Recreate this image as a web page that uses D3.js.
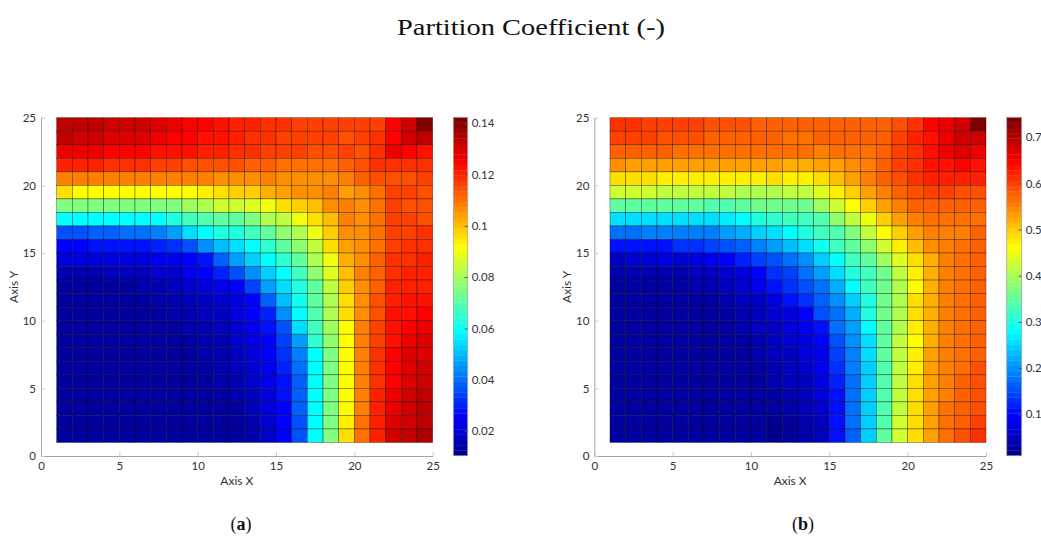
<!DOCTYPE html>
<html>
<head>
<meta charset="utf-8">
<script src="https://cdn.jsdelivr.net/npm/d3@7"></script>
<style>
body { margin: 0; background: #fff; }
svg text { font-family: Lato, "Open Sans", sans-serif; }
</style>
</head>
<body>
<script>
// Axis ticks and colorbar ticks
var axisTicks = [0, 5, 10, 15, 20, 25];
var cbTicksA = [0.02, 0.04, 0.06, 0.08, 0.1, 0.12, 0.14];
var cbTicksB = [0.1, 0.2, 0.3, 0.4, 0.5, 0.6, 0.7];
// colour limits
var climA = [0.0104, 0.1423];
var climB = [0.0103, 0.743];
var panelLetters = ["a", "b"];

// Partition coefficient, one row per y band, top row (y 24-25) first,
// columns from x 1-2 to x 24-25.
var coefA = [
  [0.133,0.132,0.132,0.131,0.131,0.130,0.128,0.127,0.125,0.124,0.123,0.121,0.121,0.119,0.119,0.117,0.117,0.116,0.116,0.116,0.117,0.125,0.131,0.141],
  [0.132,0.131,0.130,0.129,0.128,0.128,0.127,0.125,0.125,0.123,0.122,0.121,0.119,0.119,0.117,0.117,0.117,0.116,0.115,0.116,0.118,0.125,0.131,0.132],
  [0.127,0.127,0.127,0.125,0.125,0.125,0.123,0.123,0.122,0.121,0.120,0.119,0.118,0.117,0.116,0.117,0.115,0.115,0.117,0.115,0.118,0.127,0.125,0.123],
  [0.121,0.120,0.120,0.119,0.118,0.118,0.117,0.117,0.115,0.115,0.114,0.114,0.113,0.112,0.111,0.110,0.110,0.110,0.112,0.115,0.119,0.119,0.119,0.118],
  [0.108,0.108,0.108,0.108,0.108,0.108,0.108,0.108,0.108,0.108,0.106,0.107,0.107,0.108,0.106,0.106,0.106,0.106,0.108,0.112,0.115,0.115,0.115,0.117],
  [0.096,0.092,0.092,0.092,0.092,0.092,0.092,0.092,0.092,0.094,0.096,0.097,0.099,0.102,0.104,0.107,0.107,0.108,0.104,0.107,0.111,0.117,0.116,0.114],
  [0.076,0.076,0.076,0.076,0.076,0.076,0.076,0.076,0.080,0.082,0.085,0.086,0.088,0.090,0.095,0.097,0.100,0.106,0.108,0.106,0.110,0.117,0.115,0.115],
  [0.059,0.059,0.059,0.059,0.059,0.059,0.059,0.063,0.067,0.069,0.071,0.071,0.076,0.082,0.083,0.090,0.095,0.100,0.108,0.106,0.110,0.116,0.116,0.115],
  [0.036,0.037,0.038,0.039,0.040,0.041,0.043,0.047,0.054,0.059,0.063,0.063,0.067,0.071,0.078,0.082,0.090,0.097,0.106,0.106,0.110,0.117,0.117,0.118],
  [0.026,0.026,0.027,0.027,0.028,0.028,0.029,0.032,0.036,0.045,0.051,0.054,0.059,0.065,0.071,0.078,0.084,0.095,0.104,0.107,0.111,0.117,0.118,0.119],
  [0.021,0.021,0.021,0.021,0.022,0.022,0.023,0.024,0.026,0.028,0.038,0.047,0.052,0.059,0.065,0.071,0.081,0.090,0.102,0.107,0.112,0.118,0.119,0.120],
  [0.016,0.016,0.016,0.017,0.017,0.018,0.019,0.020,0.023,0.026,0.031,0.036,0.045,0.053,0.059,0.067,0.078,0.087,0.101,0.108,0.112,0.119,0.120,0.121],
  [0.014,0.013,0.013,0.014,0.014,0.015,0.016,0.017,0.019,0.021,0.024,0.026,0.034,0.047,0.054,0.063,0.071,0.084,0.098,0.107,0.113,0.120,0.121,0.121],
  [0.014,0.013,0.013,0.014,0.014,0.014,0.015,0.016,0.017,0.018,0.020,0.022,0.026,0.038,0.051,0.061,0.071,0.082,0.096,0.107,0.114,0.121,0.122,0.122],
  [0.014,0.013,0.013,0.013,0.014,0.014,0.014,0.015,0.016,0.017,0.018,0.021,0.026,0.030,0.045,0.059,0.069,0.082,0.096,0.107,0.115,0.122,0.123,0.124],
  [0.014,0.013,0.013,0.013,0.013,0.014,0.014,0.014,0.015,0.016,0.017,0.020,0.023,0.028,0.036,0.054,0.067,0.080,0.092,0.108,0.117,0.122,0.125,0.127],
  [0.014,0.013,0.013,0.013,0.013,0.013,0.014,0.014,0.014,0.015,0.016,0.019,0.022,0.026,0.034,0.047,0.065,0.078,0.092,0.108,0.117,0.123,0.126,0.128],
  [0.014,0.014,0.013,0.013,0.013,0.013,0.013,0.014,0.014,0.015,0.016,0.018,0.021,0.025,0.032,0.043,0.059,0.076,0.092,0.108,0.118,0.125,0.128,0.129],
  [0.014,0.014,0.014,0.013,0.013,0.013,0.013,0.013,0.014,0.014,0.015,0.017,0.020,0.024,0.030,0.040,0.059,0.076,0.092,0.108,0.119,0.125,0.128,0.130],
  [0.014,0.014,0.014,0.014,0.013,0.013,0.013,0.013,0.013,0.014,0.015,0.016,0.019,0.023,0.028,0.039,0.059,0.076,0.092,0.108,0.119,0.125,0.129,0.131],
  [0.014,0.014,0.014,0.014,0.014,0.013,0.013,0.013,0.013,0.014,0.014,0.015,0.018,0.022,0.027,0.038,0.059,0.076,0.092,0.108,0.120,0.126,0.130,0.132],
  [0.014,0.014,0.014,0.014,0.014,0.014,0.014,0.014,0.014,0.013,0.014,0.014,0.017,0.021,0.026,0.038,0.059,0.076,0.092,0.109,0.121,0.127,0.131,0.133],
  [0.014,0.014,0.014,0.014,0.014,0.014,0.014,0.014,0.014,0.014,0.013,0.014,0.016,0.020,0.026,0.037,0.059,0.076,0.094,0.110,0.121,0.129,0.131,0.134],
  [0.014,0.014,0.014,0.014,0.014,0.014,0.014,0.014,0.014,0.014,0.013,0.013,0.015,0.019,0.025,0.036,0.059,0.076,0.095,0.110,0.121,0.130,0.133,0.135]
];

var coefB = [
  [0.611,0.617,0.605,0.599,0.596,0.602,0.593,0.588,0.585,0.582,0.579,0.574,0.574,0.577,0.577,0.577,0.574,0.577,0.590,0.611,0.645,0.659,0.682,0.737],
  [0.596,0.599,0.602,0.588,0.585,0.585,0.582,0.577,0.579,0.577,0.574,0.571,0.571,0.577,0.574,0.574,0.574,0.582,0.596,0.623,0.634,0.659,0.679,0.682],
  [0.582,0.574,0.579,0.574,0.568,0.568,0.568,0.568,0.568,0.568,0.568,0.562,0.562,0.559,0.565,0.562,0.562,0.574,0.596,0.617,0.631,0.659,0.673,0.659],
  [0.542,0.536,0.533,0.530,0.530,0.530,0.527,0.530,0.527,0.530,0.527,0.519,0.516,0.530,0.530,0.542,0.556,0.577,0.596,0.611,0.631,0.634,0.640,0.634],
  [0.490,0.490,0.487,0.475,0.479,0.475,0.475,0.475,0.475,0.479,0.482,0.479,0.479,0.487,0.508,0.530,0.553,0.574,0.593,0.608,0.623,0.623,0.623,0.623],
  [0.426,0.426,0.423,0.417,0.417,0.414,0.411,0.411,0.408,0.400,0.400,0.411,0.411,0.440,0.479,0.499,0.530,0.553,0.577,0.588,0.599,0.596,0.588,0.585],
  [0.348,0.348,0.348,0.351,0.348,0.345,0.336,0.342,0.348,0.357,0.357,0.360,0.360,0.394,0.426,0.462,0.499,0.530,0.553,0.574,0.577,0.577,0.574,0.579],
  [0.251,0.251,0.254,0.254,0.251,0.251,0.257,0.268,0.279,0.302,0.313,0.325,0.325,0.336,0.382,0.417,0.451,0.499,0.530,0.553,0.565,0.565,0.565,0.571],
  [0.176,0.182,0.188,0.188,0.188,0.193,0.193,0.205,0.217,0.240,0.251,0.279,0.302,0.325,0.336,0.371,0.411,0.462,0.499,0.530,0.553,0.553,0.559,0.577],
  [0.108,0.108,0.102,0.108,0.130,0.136,0.142,0.153,0.165,0.193,0.211,0.234,0.251,0.291,0.325,0.348,0.382,0.429,0.475,0.513,0.545,0.553,0.565,0.577],
  [0.056,0.059,0.062,0.068,0.062,0.074,0.079,0.096,0.119,0.142,0.159,0.176,0.199,0.240,0.279,0.325,0.348,0.394,0.434,0.490,0.524,0.553,0.565,0.577],
  [0.034,0.034,0.037,0.039,0.039,0.045,0.050,0.062,0.074,0.096,0.130,0.142,0.171,0.211,0.251,0.302,0.325,0.360,0.417,0.479,0.519,0.553,0.571,0.577],
  [0.028,0.025,0.028,0.028,0.031,0.034,0.039,0.050,0.062,0.085,0.108,0.130,0.153,0.182,0.223,0.279,0.325,0.360,0.406,0.462,0.519,0.553,0.568,0.574],
  [0.028,0.025,0.025,0.025,0.028,0.028,0.031,0.034,0.045,0.056,0.074,0.108,0.130,0.165,0.199,0.240,0.302,0.360,0.406,0.484,0.524,0.553,0.568,0.574],
  [0.028,0.025,0.025,0.025,0.025,0.028,0.028,0.031,0.039,0.050,0.062,0.074,0.096,0.153,0.182,0.223,0.302,0.360,0.406,0.484,0.524,0.553,0.568,0.574],
  [0.028,0.025,0.025,0.025,0.025,0.025,0.028,0.028,0.034,0.045,0.056,0.068,0.079,0.108,0.176,0.205,0.279,0.348,0.406,0.479,0.524,0.553,0.568,0.577],
  [0.028,0.025,0.025,0.025,0.025,0.025,0.025,0.028,0.031,0.039,0.050,0.062,0.074,0.096,0.153,0.199,0.262,0.348,0.411,0.462,0.524,0.553,0.568,0.577],
  [0.028,0.028,0.025,0.025,0.025,0.025,0.025,0.025,0.028,0.034,0.045,0.056,0.068,0.085,0.142,0.188,0.251,0.348,0.411,0.479,0.530,0.556,0.568,0.582],
  [0.028,0.028,0.028,0.025,0.025,0.025,0.025,0.025,0.025,0.031,0.039,0.050,0.062,0.079,0.130,0.188,0.245,0.336,0.411,0.479,0.530,0.559,0.571,0.585],
  [0.028,0.028,0.028,0.028,0.025,0.025,0.025,0.025,0.025,0.028,0.034,0.045,0.056,0.074,0.119,0.182,0.245,0.336,0.417,0.484,0.530,0.559,0.574,0.588],
  [0.028,0.028,0.028,0.028,0.028,0.025,0.025,0.025,0.025,0.025,0.028,0.039,0.050,0.068,0.113,0.182,0.245,0.336,0.417,0.484,0.530,0.559,0.577,0.590],
  [0.028,0.028,0.028,0.028,0.028,0.028,0.025,0.025,0.025,0.025,0.022,0.034,0.045,0.062,0.108,0.176,0.245,0.336,0.417,0.490,0.530,0.565,0.577,0.593],
  [0.028,0.028,0.028,0.028,0.028,0.028,0.028,0.025,0.025,0.022,0.016,0.028,0.039,0.056,0.102,0.171,0.245,0.336,0.423,0.490,0.536,0.565,0.582,0.596],
  [0.028,0.028,0.028,0.028,0.028,0.028,0.028,0.025,0.022,0.022,0.016,0.022,0.034,0.050,0.108,0.165,0.245,0.348,0.423,0.490,0.536,0.571,0.588,0.611]
];

// MATLAB style jet with 64 steps
function jet(m) {
    var n = Math.ceil(m / 4);
    var u = [];
    for (var i = 1; i <= n; i++) u.push(i / n);
    for (var i = 1; i < n; i++) u.push(1);
    for (var i = n; i >= 1; i--) u.push(i / n);
    var gOff = Math.ceil(n / 2) - (m % 4 == 1 ? 1 : 0);
    function pick(k) { return (k >= 1 && k <= u.length) ? u[k - 1] : 0; }
    var out = [];
    for (var k = 1; k <= m; k++) {
        var r = pick(k - gOff - n), g = pick(k - gOff), b = pick(k - gOff + n);
        out.push(d3.rgb(r * 255, g * 255, b * 255).formatHex());
    }
    return out;
}
var jetColors = jet(64);

var svg = d3.select("body").append("svg")
    .attr("width", 1041)
    .attr("height", 540);

// Title
svg.append("text")
    .attr("x", 531)
    .attr("y", 35)
    .attr("text-anchor", "middle")
    .style("font-family", "'Liberation Serif', 'DejaVu Serif', serif")
    .style("font-size", "23.5px")
    .attr("textLength", 268)
    .attr("lengthAdjust", "spacingAndGlyphs")
    .attr("fill", "#111")
    .text("Partition Coefficient (-)");

var axisTop = 117.7, axisBottom = 456;

function drawPanel(data, clim, cbTicks, opt) {
    var g = svg.append("g");
    var x = d3.scaleLinear().domain([0, 25]).range([opt.left, opt.left + 391.7]);
    var y = d3.scaleLinear().domain([0, 25]).range([axisBottom, axisTop]);
    var color = d3.scaleQuantize().domain(clim).range(jetColors);

    var cells = [];
    data.forEach(function(row, r) {
        row.forEach(function(v, c) {
            cells.push({ x: c + 1, y: 24 - r, v: v });
        });
    });

    g.append("g")
        .selectAll("rect")
        .data(cells)
        .enter()
        .append("rect")
        .attr("x", function(d) { return x(d.x); })
        .attr("y", function(d) { return y(d.y + 1); })
        .attr("width", function(d) { return x(d.x + 1) - x(d.x); })
        .attr("height", function(d) { return y(d.y) - y(d.y + 1); })
        .attr("fill", function(d) { return color(d.v); })
        .attr("stroke", "#000")
        .attr("stroke-opacity", 0.55)
        .attr("stroke-width", 0.6);

    // axes, MATLAB style ticks pointing inwards
    var xAxis = g.append("g")
        .attr("transform", "translate(0," + axisBottom + ")")
        .call(d3.axisBottom(x).tickValues(axisTicks).tickSizeInner(-4).tickSizeOuter(0).tickPadding(6));
    var yAxis = g.append("g")
        .attr("transform", "translate(" + opt.left + ",0)")
        .call(d3.axisLeft(y).tickValues(axisTicks).tickSizeInner(-4).tickSizeOuter(0).tickPadding(5));
    [xAxis, yAxis].forEach(function(a) {
        a.select(".domain").attr("stroke", "#a6a6a6");
        a.selectAll(".tick line").attr("stroke", "#c8c8c8");
        a.selectAll(".tick text").attr("fill", "#333").style("font-size", "11.5px");
    });

    g.append("text")
        .attr("x", x(12.5))
        .attr("y", 485)
        .attr("text-anchor", "middle")
        .attr("fill", "#333")
        .style("font-size", "12px")
        .text("Axis X");
    g.append("text")
        .attr("transform", "translate(" + (opt.left - 23) + "," + y(12.5) + ") rotate(-90)")
        .attr("text-anchor", "middle")
        .attr("fill", "#333")
        .style("font-size", "12px")
        .text("Axis Y");

    // colorbar
    var cb = g.append("g").attr("transform", "translate(" + opt.cbX + ",0)");
    var cbY = d3.scaleLinear().domain(clim).range([455.7, 117.3]);
    var step = (clim[1] - clim[0]) / jetColors.length;
    cb.selectAll("rect.step")
        .data(jetColors)
        .enter()
        .append("rect")
        .attr("class", "step")
        .attr("x", 0)
        .attr("width", opt.cbW)
        .attr("y", function(c, i) { return cbY(clim[0] + (i + 1) * step); })
        .attr("height", function(c, i) { return cbY(clim[0] + i * step) - cbY(clim[0] + (i + 1) * step) + 0.3; })
        .attr("fill", function(c) { return c; });
    cb.append("rect")
        .attr("width", opt.cbW)
        .attr("y", 117.3)
        .attr("height", 455.7 - 117.3)
        .attr("fill", "none")
        .attr("stroke", "#a6a6a6")
        .attr("stroke-width", 0.8);
    var cbAxis = cb.append("g")
        .attr("transform", "translate(" + opt.cbW + ",0)")
        .call(d3.axisRight(cbY).tickValues(cbTicks).tickSizeInner(-3).tickSizeOuter(0).tickPadding(4)
            .tickFormat(function(d) { return String(+d.toFixed(2)); }));
    cbAxis.select(".domain").remove();
    cbAxis.selectAll(".tick line").attr("stroke", "#555");
    cbAxis.selectAll(".tick text").attr("fill", "#333").style("font-size", "11.5px");

    // sub caption
    var cap = svg.append("text")
        .attr("x", opt.capX)
        .attr("y", 530)
        .attr("text-anchor", "middle")
        .style("font-family", "'Liberation Serif', 'DejaVu Serif', serif")
        .style("font-size", "18px")
        .attr("fill", "#111");
    cap.append("tspan").text("(");
    cap.append("tspan").style("font-weight", "bold").text(opt.letter);
    cap.append("tspan").text(")");
}

drawPanel(coefA, climA, cbTicksA, { left: 41, cbX: 453.3, cbW: 14.4, capX: 241, letter: panelLetters[0] });
drawPanel(coefB, climB, cbTicksB, { left: 594.3, cbX: 1006.7, cbW: 15, capX: 803, letter: panelLetters[1] });
</script>
</body>
</html>
